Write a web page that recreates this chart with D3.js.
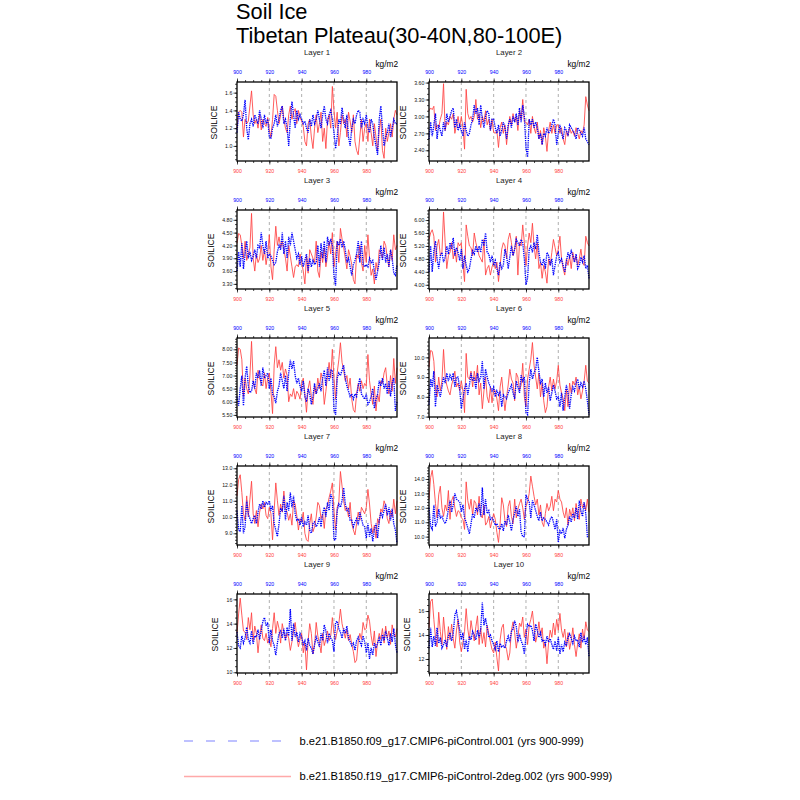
<!DOCTYPE html>
<html>
<head>
<script src="https://d3js.org/d3.v7.min.js"></script>
<style>
  html, body { margin: 0; padding: 0; background: #fff; }
</style>
</head>
<body>
<script>
// ---- data ----
var years = d3.range(900, 1000);
var layerNames = ["Layer 1", "Layer 2", "Layer 3", "Layer 4", "Layer 5",
                  "Layer 6", "Layer 7", "Layer 8", "Layer 9", "Layer 10"];
var xTicks = [900, 920, 940, 960, 980];
var legendLabels = ["b.e21.B1850.f09_g17.CMIP6-piControl.001 (yrs 900-999)",
                    "b.e21.B1850.f19_g17.CMIP6-piControl-2deg.002 (yrs 900-999)"];

// y axis limits and tick labels per layer
var yLo = [0.83, 2.21, 3.18, 3.87, 5.42, 6.98, 8.28, 9.42, 9.94, 10.83];
var yHi = [1.72, 3.61, 5.03, 6.31, 8.43, 10.98, 13.14, 14.90, 16.44, 17.42];
var yTicks = [
  [1.0, 1.2, 1.4, 1.6],
  [2.4, 2.7, 3.0, 3.3, 3.6],
  [3.3, 3.6, 3.9, 4.2, 4.5, 4.8],
  [4.0, 4.4, 4.8, 5.2, 5.6, 6.0],
  [5.5, 6.0, 6.5, 7.0, 7.5, 8.0],
  [7, 8, 9, 10],
  [9, 10, 11, 12, 13],
  [10, 11, 12, 13, 14],
  [10, 12, 14, 16],
  [12, 14, 16]
];
var yFmt = [".1f", ".2f", ".2f", ".2f", ".2f", ".1f", ".1f", ".1f", "d", "d"];
var yMinorStep = [0.05, 0.1, 0.1, 0.1, 0.1, 0.2, 0.2, 0.2, 0.5, 0.5];

// f09 run (blue) and f19 2deg run (red), years 900-999
var l1b = [1.15,1.38,1.30,1.28,1.35,1.52,1.20,1.07,1.25,1.30,
           1.22,1.35,1.30,1.25,1.40,1.30,1.20,1.35,1.25,1.30,
           1.10,1.08,1.20,1.25,1.35,1.22,1.30,1.40,1.45,1.25,
           1.30,1.20,1.00,1.30,1.50,1.35,1.20,1.40,1.30,1.35,
           1.30,1.25,1.28,1.20,1.15,1.30,1.22,1.35,1.25,1.30,
           1.40,1.30,1.20,1.35,1.45,1.30,1.25,1.35,1.40,1.30,
           1.15,0.97,1.10,1.30,1.25,1.43,1.30,1.20,1.35,1.10,
           1.00,1.20,1.30,1.25,1.35,1.40,1.38,1.20,1.30,1.25,
           1.35,1.20,1.15,1.30,1.25,1.10,1.00,0.90,1.30,1.45,
           1.20,1.00,1.10,1.15,1.25,1.10,1.20,1.30,1.25,1.25];
var l1r = [1.20,1.38,1.40,1.38,1.10,1.30,1.25,1.28,1.45,1.62,
           1.35,1.25,1.30,1.20,1.35,1.18,1.30,1.25,1.22,1.32,
           1.18,1.10,1.30,1.58,1.56,1.40,1.25,1.35,1.45,1.30,
           1.20,1.15,1.35,1.45,1.30,1.38,1.42,1.25,1.40,1.32,
           1.28,1.22,1.05,1.00,1.25,1.30,1.10,0.97,1.20,1.35,
           1.15,1.25,1.38,1.05,1.20,0.97,1.30,1.35,1.20,1.67,
           1.40,1.20,1.38,1.00,1.15,1.35,1.25,1.30,1.10,1.38,
           1.28,1.15,1.35,1.05,0.95,0.90,1.10,1.30,1.05,1.20,
           1.25,1.05,1.30,1.15,1.00,1.25,1.10,0.95,1.18,1.30,
           0.95,0.86,1.20,1.05,1.15,1.25,1.10,1.30,1.40,1.35];

var l2b = [2.60,2.90,2.65,2.85,3.05,2.60,2.85,2.75,2.65,2.90,
           2.75,3.05,2.90,3.00,3.10,3.15,2.80,2.95,2.75,2.85,
           2.75,2.65,2.90,2.75,2.65,2.70,2.85,2.95,3.20,3.05,
           3.15,2.85,3.20,2.95,2.80,3.00,3.10,3.05,2.75,2.95,
           2.95,2.80,2.70,2.85,2.65,2.75,2.90,2.80,2.60,2.85,
           2.95,2.80,3.00,2.90,3.05,2.85,3.15,2.90,3.20,3.00,
           2.45,2.28,2.95,2.85,2.95,2.80,2.90,2.80,2.60,2.70,
           2.50,2.70,2.65,2.80,2.70,2.75,2.85,2.95,2.85,2.50,
           2.70,2.85,2.70,2.60,2.80,2.75,2.65,2.85,2.80,2.75,
           2.70,2.60,2.80,2.75,2.70,2.65,2.80,2.60,2.55,2.50];
var l2r = [3.10,3.15,3.12,3.18,2.75,2.85,2.80,2.95,3.05,3.58,
           2.75,2.90,2.85,3.00,2.95,3.05,2.70,2.85,3.00,2.80,
           3.00,2.80,2.42,3.48,3.05,2.95,3.00,2.90,3.00,3.30,
           2.95,3.05,2.80,3.00,2.90,3.10,2.85,2.95,2.75,2.95,
           2.72,2.70,2.75,2.45,2.80,2.90,2.70,2.85,2.50,2.80,
           3.00,2.85,3.05,2.90,3.00,2.75,3.10,2.95,3.30,2.90,
           2.90,2.85,2.95,2.70,3.00,2.80,2.70,2.90,2.60,2.75,
           2.50,2.80,2.65,2.38,2.75,2.90,2.70,2.85,2.70,2.85,
           2.85,2.70,2.80,2.60,2.50,2.75,2.65,2.80,2.70,2.75,
           2.65,2.80,2.70,2.60,2.75,2.70,2.85,3.35,3.20,3.10];

var l3b = [3.60,4.05,3.70,4.25,3.65,4.00,4.30,3.90,4.05,3.85,
           3.95,4.10,3.90,4.20,4.15,4.50,4.20,4.00,4.30,3.90,
           4.00,3.95,3.85,3.75,3.80,4.05,4.20,4.10,4.50,4.00,
           4.30,3.90,4.40,4.20,4.50,4.30,4.10,3.90,4.00,3.75,
           3.95,3.70,3.85,4.00,3.60,3.90,3.70,3.85,3.75,3.80,
           4.20,3.70,4.25,3.90,4.30,3.80,4.40,4.20,4.35,4.20,
           3.50,3.26,4.30,4.20,4.35,4.15,4.30,4.10,3.80,3.90,
           3.70,3.50,3.75,3.85,4.00,4.30,3.80,4.30,3.75,3.70,
           3.75,3.70,3.90,3.80,3.85,3.60,3.40,3.60,3.80,4.20,
           3.85,4.15,3.80,4.00,3.70,4.10,3.90,3.55,3.50,3.75];
var l3r = [4.25,4.48,4.45,4.20,3.90,4.30,3.85,4.00,4.15,4.95,
           3.90,3.60,4.00,3.80,3.90,4.20,3.85,4.10,3.75,4.00,
           4.45,3.70,3.40,4.10,4.65,4.20,4.40,4.15,4.30,4.10,
           3.90,3.60,4.20,3.95,3.70,3.45,3.70,3.75,3.70,4.00,
           3.80,3.60,3.30,3.95,3.55,4.10,4.00,3.90,3.80,4.30,
           3.60,3.45,4.05,3.80,4.15,3.70,3.95,4.30,4.00,4.50,
           3.70,4.00,4.30,3.80,4.60,4.35,4.15,3.90,3.65,4.10,
           3.95,3.75,3.40,3.30,4.00,3.90,4.20,3.80,3.60,4.20,
           3.80,4.45,3.90,3.50,3.65,3.30,3.80,3.60,4.10,4.00,
           3.90,4.30,4.20,3.90,3.70,4.10,3.85,4.45,4.10,4.20];

var l4b = [4.40,5.20,4.40,5.05,5.35,4.80,4.50,4.90,5.00,4.70,
           4.85,5.20,4.95,5.30,5.10,5.45,4.90,5.15,5.00,4.75,
           5.10,4.50,4.90,4.60,4.40,4.50,4.80,5.05,4.95,5.20,
           5.00,5.20,5.00,5.40,5.20,5.60,5.00,4.95,4.70,4.90,
           4.60,4.75,4.50,4.30,4.70,4.50,4.60,5.10,4.90,4.50,
           4.85,5.20,4.90,5.10,5.40,5.30,5.20,5.40,5.30,4.80,
           4.00,4.20,5.10,5.20,5.00,5.30,5.10,5.55,5.00,4.70,
           4.60,4.80,4.50,5.00,4.90,4.60,4.80,4.30,4.60,4.90,
           5.00,4.70,4.80,4.60,4.40,4.70,5.00,4.85,5.05,4.90,
           4.70,4.95,4.50,4.60,4.85,4.70,4.90,4.50,4.60,4.20];
var l4r = [5.40,5.60,5.70,5.50,4.70,5.20,5.40,4.90,5.00,6.25,
           5.30,4.50,4.90,5.00,5.30,4.80,5.10,4.70,5.30,5.20,
           5.30,4.60,4.10,5.85,5.50,5.20,5.15,4.90,5.60,5.30,
           5.10,4.90,4.80,4.70,5.40,4.30,4.50,4.60,4.30,4.55,
           4.70,4.50,4.70,4.10,4.60,5.10,5.30,5.20,4.80,5.40,
           5.60,5.30,4.90,5.10,5.50,4.30,5.30,5.20,5.85,5.30,
           4.60,5.20,5.60,5.30,5.90,5.20,4.80,5.30,4.50,4.70,
           4.20,4.60,4.40,4.05,4.80,4.60,5.00,5.40,5.15,4.90,
           5.10,5.50,4.80,4.50,4.30,4.80,4.60,4.90,4.50,5.00,
           4.70,4.90,4.60,4.80,5.10,4.70,4.60,5.50,5.30,5.20];

var l5b = [6.20,5.85,6.50,7.00,5.85,6.90,7.35,6.60,6.35,6.40,
           6.80,6.50,7.10,6.90,7.20,6.60,7.30,6.90,7.00,7.10,
           6.50,6.90,6.30,6.20,5.95,6.40,6.60,7.10,6.80,6.50,
           7.00,6.40,7.10,7.60,7.25,7.55,7.00,6.70,6.90,6.60,
           6.40,6.80,6.20,6.00,6.50,6.30,5.90,6.20,6.70,6.30,
           6.50,6.70,6.40,6.90,7.20,6.60,7.30,6.80,7.20,7.20,
           5.70,5.50,6.90,7.10,7.00,7.20,7.40,6.90,6.60,6.40,
           6.20,6.30,6.10,6.30,6.20,6.60,6.90,6.30,6.20,6.10,
           6.30,5.90,6.00,6.20,6.50,5.75,6.10,6.30,6.80,6.60,
           6.90,6.50,6.70,6.30,6.80,6.20,6.70,6.90,5.65,6.00];
var l5r = [7.40,8.05,8.00,7.60,6.20,6.90,6.50,6.30,7.00,8.30,
           6.80,6.50,6.30,7.20,6.90,6.70,6.60,7.10,6.50,6.90,
           7.10,6.40,5.55,7.40,8.10,7.30,7.60,7.20,7.50,6.90,
           7.25,7.00,6.00,6.30,6.20,6.50,6.10,6.40,6.30,6.10,
           6.70,6.90,6.30,5.60,6.50,6.80,6.20,5.90,6.60,6.30,
           6.90,6.50,7.10,6.80,5.90,6.40,7.00,7.50,6.90,8.00,
           6.90,6.10,7.10,7.60,8.25,7.50,7.20,6.80,7.00,6.50,
           6.90,6.10,5.70,5.60,6.30,6.70,6.40,6.80,6.50,6.70,
           6.60,7.80,6.80,6.30,5.90,6.60,5.65,6.30,6.00,6.80,
           6.70,7.10,7.30,6.60,6.30,7.00,6.40,7.65,6.70,7.30];

var l6b = [7.60,8.90,8.50,9.30,7.50,8.60,8.30,8.00,8.50,9.00,
           8.70,9.20,8.80,9.10,8.90,9.20,8.50,9.00,9.00,8.40,
           7.40,7.90,8.40,8.70,8.10,8.60,9.20,8.80,9.00,8.40,
           9.20,8.80,9.00,9.80,8.40,9.40,9.00,8.70,8.50,8.30,
           8.50,8.00,8.30,8.10,8.30,7.50,8.10,8.00,7.90,8.20,
           8.40,8.60,8.20,7.90,8.80,8.50,8.20,9.10,8.80,9.00,
           7.20,7.10,8.70,9.40,8.90,9.20,9.40,10.00,9.30,8.70,
           8.90,8.00,8.70,8.20,8.50,7.80,8.20,8.60,8.30,7.90,
           8.00,7.50,8.20,7.30,8.00,8.60,8.20,7.40,8.10,8.50,
           8.30,8.70,8.90,8.40,8.70,8.50,8.80,8.40,7.80,7.10];
var l6r = [9.50,10.35,10.30,9.80,8.40,8.00,9.00,8.30,8.80,10.40,
           9.00,8.60,8.30,8.10,8.60,8.90,9.30,8.50,8.70,8.30,
           8.80,8.30,7.20,10.20,9.00,8.90,9.30,8.50,9.30,8.80,
           9.60,8.10,8.70,7.40,8.30,9.00,8.00,7.70,8.50,7.70,
           8.40,8.30,7.90,7.30,8.50,9.00,8.10,7.30,8.00,8.60,
           9.40,8.90,8.70,7.80,9.20,9.00,8.30,8.60,9.70,8.00,
           7.50,8.90,9.40,9.90,10.75,9.60,9.00,8.40,9.20,8.00,
           8.70,7.80,7.20,7.50,8.50,9.00,8.30,8.90,8.40,8.80,
           9.60,8.60,8.20,7.90,7.30,8.40,7.50,8.70,8.20,8.80,
           8.60,9.00,8.10,8.50,7.90,8.30,8.80,9.60,8.80,8.70];

var l7b = [10.40,9.20,9.10,10.70,9.00,9.40,11.00,10.20,9.90,9.60,
           9.90,10.10,9.60,10.30,10.80,10.50,11.00,10.60,10.90,10.80,
           11.00,10.40,10.70,9.60,9.20,8.80,9.60,10.50,10.40,11.30,
           9.80,10.90,10.40,11.50,10.60,11.30,10.20,9.80,9.90,9.50,
           10.00,9.40,9.70,9.50,10.10,9.20,9.00,9.60,9.70,9.40,
           9.60,10.00,9.40,10.20,10.60,10.00,10.90,10.40,11.40,11.10,
           8.60,8.60,10.40,10.80,10.60,11.00,11.80,10.80,10.40,10.50,
           9.80,9.80,9.40,9.70,9.90,9.50,10.30,9.90,9.50,9.40,
           8.70,9.60,8.80,9.30,8.50,9.20,9.60,8.70,9.80,10.30,
           10.00,10.40,10.80,10.10,10.60,9.80,10.50,9.60,9.20,8.40];
var l7r = [11.30,12.30,12.60,11.50,10.20,9.80,11.30,10.00,11.10,12.20,
           10.20,9.60,10.40,9.40,10.30,10.80,10.50,10.90,10.10,9.90,
           10.60,10.20,8.60,10.40,12.10,11.00,10.10,10.80,10.30,11.60,
           10.50,10.30,9.80,10.20,9.50,11.00,10.80,10.10,9.20,9.90,
           9.70,10.30,9.00,8.60,8.50,9.60,10.20,9.10,9.40,10.00,
           10.90,10.70,9.90,10.20,9.30,10.50,10.70,11.20,11.60,12.10,
           10.40,9.20,10.60,10.90,12.80,11.90,11.00,10.40,10.60,10.00,
           10.90,9.60,9.20,8.90,9.60,10.30,9.80,10.60,10.40,10.20,
           10.60,11.70,10.80,9.60,9.00,9.50,8.70,9.90,9.60,10.50,
           10.30,11.00,10.70,9.90,9.60,10.40,10.00,11.10,10.20,11.00];

var l8b = [12.00,10.70,10.50,12.20,10.70,11.00,11.90,11.30,11.40,11.10,
           10.90,11.20,11.90,12.50,11.70,12.20,13.00,12.60,12.50,12.40,
           11.70,12.20,11.30,11.00,10.60,10.20,10.90,11.60,11.30,12.00,
           11.80,12.30,11.40,13.40,11.50,12.60,11.60,11.80,11.20,11.30,
           11.10,10.80,10.90,10.60,10.50,10.90,10.40,11.10,10.80,11.50,
           11.00,10.40,11.20,11.60,12.10,11.40,11.90,10.30,10.00,10.00,
           12.90,12.60,12.40,11.30,12.50,12.20,11.80,11.40,11.10,11.70,
           11.10,11.30,11.20,11.00,10.80,11.20,11.40,11.00,10.50,11.20,
           9.60,10.40,10.20,10.60,9.90,10.50,10.80,11.40,11.00,11.60,
           11.30,12.00,11.20,12.50,11.80,11.40,12.40,11.60,10.00,10.00];
var l8r = [12.60,14.10,14.60,13.60,12.30,11.30,12.90,13.50,12.00,11.40,
           12.20,11.80,13.20,11.20,12.50,12.80,12.00,11.40,11.80,11.70,
           11.30,11.20,10.50,13.80,12.50,11.90,12.60,11.50,12.50,12.30,
           11.50,12.80,11.50,11.30,12.20,10.80,11.00,11.40,10.60,11.10,
           11.60,11.20,10.30,9.60,10.90,12.70,12.20,11.10,10.70,12.10,
           12.50,11.40,10.90,12.60,11.30,11.90,12.30,12.60,12.00,11.20,
           12.10,12.40,13.00,14.20,13.50,12.80,12.20,12.60,11.50,12.20,
           11.00,10.70,11.60,12.30,11.80,12.10,12.80,11.80,12.60,12.40,
           13.20,12.60,12.40,11.70,11.30,12.00,10.80,11.90,11.40,12.00,
           11.10,12.30,11.60,11.20,12.60,12.00,12.30,11.80,12.60,11.70];

var l9b = [13.30,12.20,12.00,13.00,12.40,12.80,13.70,12.70,12.40,13.40,
           12.30,13.00,12.90,13.50,12.70,13.40,14.20,14.50,13.80,14.10,
           12.40,13.50,12.60,12.20,11.40,12.40,13.20,13.40,12.80,13.60,
           12.60,13.70,13.00,15.20,12.60,14.00,12.90,13.30,12.50,13.20,
           12.90,12.30,12.60,11.80,12.80,12.20,12.00,11.50,12.30,12.90,
           12.50,12.10,13.20,12.60,13.90,13.40,12.40,13.20,12.80,12.60,
           11.70,14.10,14.20,13.60,13.30,12.80,13.60,13.20,13.80,12.80,
           12.50,12.20,12.40,11.80,12.60,12.90,12.50,12.20,13.00,12.50,
           11.60,12.40,11.10,12.00,11.40,12.40,12.00,12.40,12.80,12.20,
           13.10,12.60,13.40,12.80,12.20,13.20,12.50,13.60,12.30,11.60];
var l9r = [13.20,14.80,16.10,14.70,13.40,13.30,12.70,14.50,13.50,14.90,
           12.60,13.80,13.20,11.60,13.00,13.90,12.80,12.60,13.20,12.40,
           12.80,12.10,13.60,14.90,13.20,14.20,13.60,12.40,14.00,13.30,
           12.70,13.20,12.80,11.80,12.50,13.40,14.10,12.90,12.10,12.70,
           13.20,11.60,12.40,10.20,12.60,14.00,13.20,11.50,12.20,14.10,
           13.00,12.40,11.60,13.20,12.20,12.70,13.40,12.60,13.00,14.50,
           13.20,12.70,13.40,14.00,15.20,14.00,13.40,12.80,13.50,12.60,
           13.10,12.30,11.70,10.80,11.00,12.50,13.20,12.70,14.10,13.50,
           13.60,14.70,14.20,13.00,12.20,13.40,11.30,12.50,13.20,12.70,
           13.60,12.40,13.80,12.80,13.40,12.30,13.90,13.20,12.90,13.60];

var l10b = [12.90,14.60,13.00,13.90,13.10,14.60,13.30,13.80,12.90,13.20,
            13.60,13.00,13.90,14.20,13.50,14.10,15.70,16.00,15.20,14.40,
            13.60,14.20,12.80,13.60,12.60,13.90,13.60,14.30,14.00,13.60,
            14.40,13.80,14.50,16.70,14.80,15.40,14.60,13.80,14.00,13.50,
            13.20,12.80,13.50,12.60,13.30,13.00,13.10,12.90,13.50,13.90,
            13.40,14.30,14.50,15.20,14.70,13.40,14.10,13.50,13.20,12.40,
            14.00,14.90,14.70,14.80,14.40,13.50,14.90,14.40,13.80,14.20,
            13.50,13.60,13.20,13.90,13.40,13.70,13.20,12.80,13.50,12.70,
            13.80,12.40,13.20,12.60,13.40,13.10,13.80,14.10,13.70,13.30,
            13.90,13.50,13.60,13.00,14.20,13.40,13.80,13.20,13.80,12.20];
var l10r = [14.60,16.80,17.00,15.30,13.80,13.00,15.90,14.30,13.20,15.50,
            14.00,12.80,14.70,13.60,14.90,13.70,12.90,14.40,15.30,13.40,
            12.60,13.40,14.30,16.20,14.50,13.60,15.20,14.30,13.50,14.70,
            15.60,13.20,14.60,13.30,14.20,13.00,14.80,14.10,13.40,12.80,
            12.50,13.40,12.10,11.00,13.60,14.60,14.90,13.20,12.80,11.90,
            12.50,14.40,15.10,14.20,12.90,13.80,15.00,14.70,15.50,13.80,
            14.50,13.20,14.80,15.30,16.00,14.60,13.40,14.00,15.10,13.90,
            14.60,12.90,13.40,11.60,13.40,14.40,13.80,15.00,14.00,15.30,
            14.40,15.80,14.40,13.80,14.50,13.00,14.20,12.80,13.50,14.60,
            13.20,12.20,13.30,14.10,12.90,14.50,13.60,15.10,14.40,14.30];

var blueSeries = [l1b, l2b, l3b, l4b, l5b, l6b, l7b, l8b, l9b, l10b];
var redSeries  = [l1r, l2r, l3r, l4r, l5r, l6r, l7r, l8r, l9r, l10r];

// ---- layout ----
var font = '"Liberation Sans", Arial, Helvetica, sans-serif';
var panelW = 160, panelH = 79;
var colX = [237, 429];
var rowTop = 82, rowStep = 128;
var blue = "#0000ff", red = "#ff4040";

var svg = d3.select('body').append('svg')
    .attr('width', 800)
    .attr('height', 800)
    .style('background-color', 'white')
    .style('font-family', font);

// title
svg.append('text').attr('x', 236).attr('y', 18.5)
    .attr('font-size', 21.8).text('Soil Ice');
svg.append('text').attr('x', 236).attr('y', 42.5)
    .attr('font-size', 21.8).text('Tibetan Plateau(30-40N,80-100E)');

var xMinor = d3.range(900, 1000, 5);

for (var i = 0; i < 10; i++) {
    var px = colX[i % 2];
    var py = rowTop + Math.floor(i / 2) * rowStep;
    var g = svg.append('g').attr('transform', 'translate(' + px + ',' + py + ')');

    var x = d3.scaleLinear().domain([900, 999]).range([0, panelW]);
    var y = d3.scaleLinear().domain([yLo[i], yHi[i]]).range([panelH, 0]);

    /* dashed vertical grid lines */
    g.selectAll('.grid').data(xTicks.slice(1)).enter().append('line')
        .attr('x1', function(d) { return x(d); })
        .attr('x2', function(d) { return x(d); })
        .attr('y1', 0).attr('y2', panelH)
        .attr('stroke', '#9a9a9a')
        .attr('stroke-width', 0.8)
        .attr('stroke-dasharray', '3,3');

    /* series: red first, blue dotted on top */
    var line = d3.line()
        .x(function(d, k) { return x(years[k]); })
        .y(function(d) { return y(d); });

    g.append('path').datum(redSeries[i])
        .attr('d', line)
        .attr('fill', 'none')
        .attr('stroke', red)
        .attr('stroke-width', 0.85);

    g.append('path').datum(blueSeries[i])
        .attr('d', line)
        .attr('fill', 'none')
        .attr('stroke', blue)
        .attr('stroke-width', 1.35)
        .attr('stroke-dasharray', '1.3,0.9');

    /* frame */
    g.append('rect')
        .attr('width', panelW).attr('height', panelH)
        .attr('fill', 'none')
        .attr('stroke', 'black')
        .attr('stroke-width', 1.3);

    /* bottom axis (red labels) */
    var xb = g.append('g').attr('transform', 'translate(0,' + panelH + ')')
        .call(d3.axisBottom(x).tickValues(xTicks).tickSize(3.5).tickSizeOuter(0)
              .tickPadding(4.8).tickFormat(d3.format('d')));
    var xbm = g.append('g').attr('transform', 'translate(0,' + panelH + ')')
        .call(d3.axisBottom(x).tickValues(xMinor).tickSize(2).tickSizeOuter(0).tickFormat(''));
    xb.selectAll('text').attr('fill', red);

    /* top axis (blue labels) */
    var xt = g.append('g')
        .call(d3.axisTop(x).tickValues(xTicks).tickSize(3.5).tickSizeOuter(0)
              .tickPadding(4.2).tickFormat(d3.format('d')));
    var xtm = g.append('g')
        .call(d3.axisTop(x).tickValues(xMinor).tickSize(2).tickSizeOuter(0).tickFormat(''));
    xt.selectAll('text').attr('fill', blue);

    /* left axis */
    var yMinor = d3.range(Math.ceil(yLo[i] / yMinorStep[i] - 1e-6) * yMinorStep[i], yHi[i], yMinorStep[i]);
    var yl = g.append('g')
        .call(d3.axisLeft(y).tickValues(yTicks[i]).tickSize(3.5).tickSizeOuter(0)
              .tickPadding(1.2).tickFormat(d3.format(yFmt[i])));
    var ylm = g.append('g')
        .call(d3.axisLeft(y).tickValues(yMinor).tickSize(2).tickSizeOuter(0).tickFormat(''));
    yl.selectAll('text').attr('fill', '#111');

    [xb, xbm, xt, xtm, yl, ylm].forEach(function(a) {
        a.attr('font-size', 5.2).attr('font-family', font);
        a.select('.domain').remove();
        a.selectAll('line').attr('stroke', 'black').attr('stroke-width', 0.7);
    });

    /* y title placed left of the widest tick label */
    var maxW = 0;
    yl.selectAll('text').each(function() {
        maxW = Math.max(maxW, this.getComputedTextLength());
    });
    var ty = -(4.7 + maxW + 12);
    g.append('text')
        .attr('transform', 'translate(' + (ty + 3.5) + ',' + (panelH / 2 + 1) + ') rotate(-90)')
        .attr('text-anchor', 'middle')
        .attr('font-size', 8.6)
        .text('SOILICE');

    /* panel titles */
    g.append('text')
        .attr('x', panelW / 2).attr('y', -27)
        .attr('text-anchor', 'middle')
        .attr('font-size', 7.8)
        .attr('fill', '#222')
        .text(layerNames[i]);
    g.append('text')
        .attr('x', panelW + 1).attr('y', -15)
        .attr('text-anchor', 'end')
        .attr('font-size', 8.3)
        .text('kg/m2');
}

// ---- legend ----
var legY = [741, 776.5];
var legStroke = ["#a9adff", "#ffa9a9"];
var legDash = ["9,13", null];
legendLabels.forEach(function(lab, k) {
    svg.append('line')
        .attr('x1', 184).attr('x2', 291)
        .attr('y1', legY[k]).attr('y2', legY[k])
        .attr('stroke', legStroke[k])
        .attr('stroke-width', 1.4)
        .attr('stroke-dasharray', legDash[k]);
    svg.append('text')
        .attr('x', 299.5).attr('y', legY[k] + 3.9)
        .attr('font-size', 11.2)
        .text(lab);
});
</script>
</body>
</html>
